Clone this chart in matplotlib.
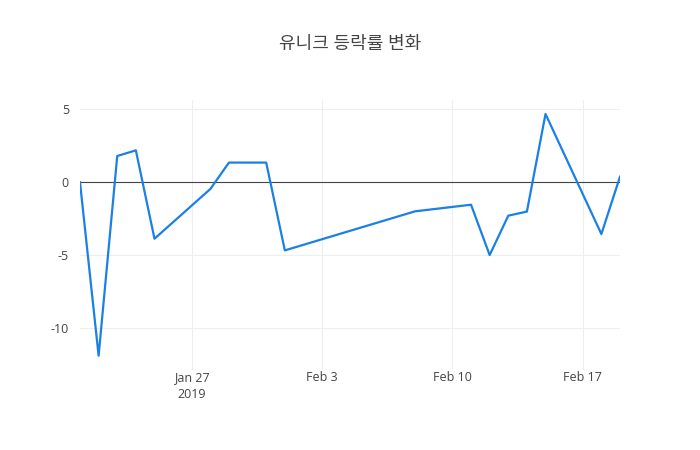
import matplotlib
matplotlib.use("Agg")
import matplotlib.pyplot as plt
import datetime as dt

plt.rcParams['font.family'] = ['Open Sans', 'Noto Sans CJK KR', 'DejaVu Sans']

dates = ["2019-01-21", "2019-01-22", "2019-01-23", "2019-01-24", "2019-01-25",
         "2019-01-28", "2019-01-29", "2019-01-30", "2019-01-31", "2019-02-01",
         "2019-02-08", "2019-02-11", "2019-02-12", "2019-02-13", "2019-02-14",
         "2019-02-15", "2019-02-18", "2019-02-19"]
rates = [0.0, -11.89, 1.80, 2.19, -3.87,
         -0.46, 1.35, 1.35, 1.35, -4.67,
         -1.99, -1.54, -4.99, -2.29, -2.01,
         4.68, -3.55, 0.38]

tick_dates = ["2019-01-27", "2019-02-03", "2019-02-10", "2019-02-17"]
tick_labels = ["Jan 27\n2019", "Feb 3", "Feb 10", "Feb 17"]
y_ticks = [-10, -5, 0, 5]

x = [dt.datetime.strptime(d, "%Y-%m-%d") for d in dates]
xt = [dt.datetime.strptime(d, "%Y-%m-%d") for d in tick_dates]

fig = plt.figure(figsize=(7, 4.5), dpi=100)
ax = fig.add_axes([80/700, 80/450, 540/700, 270/450])

ax.plot(x, rates, color='#1a80e6', lw=1.6, zorder=3)
ax.axhline(0, color='#444444', lw=0.8, zorder=2)

ax.set_xlim(x[0], x[-1])
ax.set_ylim(-12.87, 5.64)
ax.set_xticks(xt)
ax.set_xticklabels(tick_labels, color='#444444', fontsize=9, linespacing=1.4)
ax.set_yticks(y_ticks)
ax.set_yticklabels([str(v) for v in y_ticks], color='#444444', fontsize=9)
ax.tick_params(axis='x', length=0, pad=1)
ax.tick_params(axis='y', length=0, pad=8)
ax.grid(True, color='#eeeeee', lw=0.8, zorder=0)
for s in ax.spines.values():
    s.set_visible(False)

fig.text(0.5, 1 - 44/450, "유니크 등락률 변화", ha='center', va='center',
         fontsize=13, color='#444444')

fig.savefig("out.png", dpi=100, facecolor='white')
